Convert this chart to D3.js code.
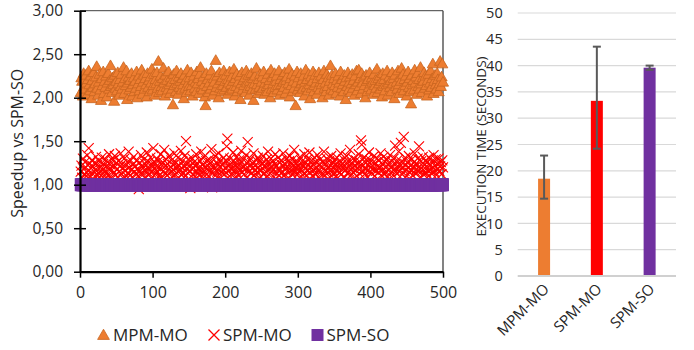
<!DOCTYPE html>
<html>
<head>
<meta charset="utf-8">
<script src="https://cdn.jsdelivr.net/npm/d3@7"></script>
<style>
html,body{margin:0;padding:0;background:#fff;}
svg{display:block;font-family:"Open Sans",sans-serif;}
</style>
</head>
<body>
<svg id="chart" width="694" height="350"></svg>
<script>
// ---------- DATA ----------
const seriesNames = ["MPM-MO", "SPM-MO", "SPM-SO"];
const xTicks = [0, 100, 200, 300, 400, 500];
const yTicks = [0, 0.5, 1, 1.5, 2, 2.5, 3];
const yTickLabels = ["0,00", "0,50", "1,00", "1,50", "2,00", "2,50", "3,00"];

const mpmMo = [
2.05,2.22,2.18,2.01,2.27,2.12,2.09,2.25,2.16,2.03,2.20,2.30,2.14,2.07,2.24,1.98,2.19,2.11,2.28,2.06,2.15,2.23,2.35,2.10,2.02,
2.17,2.26,2.08,1.96,2.21,2.13,2.29,2.04,2.18,2.11,2.24,2.00,2.16,2.27,2.09,2.19,2.36,2.12,2.05,2.22,2.14,1.95,2.25,2.10,2.18,
2.07,2.28,2.15,2.02,2.20,2.12,2.26,2.09,2.17,2.34,2.04,2.21,2.13,2.30,1.97,2.16,2.23,2.08,2.19,2.11,2.27,2.01,2.14,2.22,2.06,
2.18,2.10,2.29,1.99,2.15,2.24,2.07,2.20,2.12,2.31,2.03,2.17,2.25,2.09,2.21,2.14,2.00,2.27,2.11,2.19,2.06,2.23,2.16,2.32,2.08,
2.13,2.26,2.02,2.20,2.15,2.28,2.10,2.41,2.05,2.18,2.24,2.12,2.07,2.21,2.33,2.16,2.01,2.25,2.11,2.19,2.08,2.29,2.14,2.04,2.22,
2.17,2.09,1.91,2.26,2.13,2.20,2.06,2.30,2.15,2.03,2.23,2.11,2.18,2.27,2.08,2.21,2.14,1.98,2.25,2.10,2.19,2.05,2.31,2.16,2.12,
2.22,2.07,2.28,2.13,2.01,2.19,2.24,2.10,2.17,2.06,2.29,2.15,2.21,2.04,2.26,2.34,2.11,2.18,2.08,2.23,2.14,2.00,1.90,2.27,2.12,
2.20,2.05,2.16,2.25,2.09,2.30,2.13,2.02,2.21,2.17,2.07,2.42,2.11,2.24,2.15,1.99,2.28,2.10,2.19,2.06,2.22,2.13,2.30,2.08,2.18,
2.25,2.11,2.03,2.20,2.16,2.29,2.07,2.14,2.23,2.09,2.18,2.32,2.01,2.21,2.12,2.26,2.06,2.17,2.10,2.24,1.97,2.15,2.28,2.08,2.19,
2.13,2.22,2.05,2.30,2.16,2.10,2.25,2.02,2.18,2.12,2.27,2.08,2.21,1.96,2.15,2.24,2.09,2.33,2.14,2.04,2.20,2.11,2.26,2.07,2.17,
2.23,2.10,2.29,2.03,2.16,2.21,2.12,2.06,2.26,2.14,2.19,1.99,2.31,2.09,2.22,2.15,2.05,2.27,2.11,2.18,2.24,2.08,2.13,2.30,2.02,
2.20,2.14,2.07,2.25,2.17,2.11,2.28,2.04,2.19,2.23,2.09,2.15,2.32,2.00,2.21,2.13,2.26,2.06,2.18,2.10,2.24,1.90,2.16,2.29,2.08,
2.22,2.12,2.05,2.27,2.15,2.19,2.09,2.24,2.01,2.17,2.31,2.11,2.20,2.07,2.26,2.14,1.98,2.23,2.10,2.18,2.29,2.06,2.13,2.25,2.16,
2.03,2.21,2.11,2.28,2.08,2.17,2.24,2.14,1.99,2.20,2.30,2.10,2.16,2.06,2.26,2.12,2.22,2.02,2.18,2.36,2.09,2.25,2.15,2.07,2.21,
2.13,2.27,2.04,2.19,2.11,2.24,2.16,2.01,2.29,2.10,2.20,2.14,2.06,2.25,2.18,1.97,2.22,2.12,2.28,2.08,2.17,2.23,2.05,2.15,2.26,
2.10,2.19,2.02,2.24,2.14,2.30,2.07,2.17,2.31,2.12,2.21,2.04,2.27,2.16,2.09,2.23,2.13,1.99,2.25,2.18,2.06,2.20,2.11,2.28,2.15,
2.08,2.22,2.17,2.03,2.26,2.13,2.19,2.10,2.32,2.05,2.21,2.15,2.24,2.09,2.18,2.00,2.27,2.12,2.20,2.07,2.25,2.14,2.30,2.02,2.16,
2.23,2.11,2.19,2.06,2.28,2.15,2.21,1.98,2.25,2.12,2.17,2.09,2.30,2.14,2.04,2.22,2.18,2.33,2.10,2.26,2.07,2.20,2.13,2.24,2.01,
2.17,2.29,2.11,2.21,2.06,1.92,2.25,2.14,2.19,2.08,2.31,2.16,2.23,2.03,2.27,2.12,2.20,2.09,2.34,2.15,2.05,2.22,2.18,2.28,2.10,
2.24,2.13,2.01,2.19,2.26,2.08,2.16,2.30,2.11,2.21,2.38,2.04,2.18,2.25,2.14,2.09,2.27,2.20,2.06,2.15,2.41,2.12,2.23,2.38,2.17
];

const spmMo = [
1.15,1.22,1.08,1.30,1.18,1.12,1.26,1.20,1.10,1.34,1.16,1.42,1.24,1.09,1.19,1.28,1.13,1.21,1.06,1.25,1.17,1.32,1.11,1.23,1.14,
1.27,1.09,1.20,1.16,1.31,1.12,1.24,1.18,1.07,1.29,1.21,1.14,1.26,1.10,1.35,1.19,1.23,1.08,1.17,1.28,1.13,1.22,1.33,1.11,1.25,
1.18,1.09,1.27,1.15,1.21,1.36,1.12,1.24,1.19,1.07,1.30,1.16,1.22,1.10,1.26,1.14,1.38,1.20,1.11,1.28,1.17,1.23,1.08,1.32,1.15,
1.21,1.13,1.27,1.18,1.10,0.95,1.25,1.16,1.34,1.12,1.22,1.19,1.29,1.08,1.24,1.15,1.37,1.20,1.11,1.26,1.17,1.31,1.14,1.23,1.09,
1.42,1.18,1.25,1.12,1.21,1.30,1.15,1.27,1.10,1.19,1.35,1.23,1.08,1.26,1.16,1.40,1.13,1.22,1.29,1.11,1.24,1.18,1.33,1.14,1.20,
1.28,1.09,1.23,1.17,1.36,1.12,1.25,1.20,1.07,1.31,1.15,1.22,1.18,1.39,1.11,1.27,1.14,1.21,1.33,1.10,1.50,1.19,1.24,1.13,1.29,
1.16,0.96,1.22,1.18,1.30,1.12,1.26,1.09,1.21,1.35,1.15,1.24,1.19,1.11,1.28,1.17,1.38,1.13,1.23,1.08,1.32,1.20,1.14,1.27,1.18,
1.22,1.10,1.29,1.16,1.25,1.41,0.97,1.13,1.21,1.18,1.33,1.11,1.26,1.15,1.23,1.36,1.09,1.20,1.28,1.14,1.24,1.17,1.31,1.12,1.19,
1.27,1.44,1.53,1.16,1.22,1.10,1.30,1.18,1.25,1.13,1.37,1.20,1.08,1.26,1.15,1.32,1.21,1.11,1.28,1.17,1.24,1.39,1.14,1.19,1.29,
1.12,1.23,1.18,1.34,1.09,1.49,1.26,1.15,1.21,1.30,1.13,1.25,1.19,1.36,1.11,1.22,1.17,1.28,1.14,1.31,1.20,1.08,1.27,1.16,1.24,
1.19,1.33,1.12,1.26,1.21,1.15,1.29,1.10,1.38,1.18,1.24,1.13,1.30,1.20,1.16,1.27,1.09,1.23,1.35,1.14,1.22,1.18,1.31,1.11,1.25,
1.17,1.28,1.13,1.22,1.36,1.10,1.24,1.19,1.30,1.15,1.21,1.08,1.27,1.33,1.16,1.23,1.12,1.29,1.18,1.40,1.14,1.25,1.20,1.11,1.26,
1.21,1.15,1.32,1.18,1.09,1.27,1.23,1.13,1.35,1.19,1.25,1.11,1.29,1.16,1.22,1.37,1.14,1.20,1.28,1.10,1.24,1.17,1.31,1.12,1.26,
1.19,1.34,1.15,1.23,1.08,1.29,1.21,1.13,1.26,1.18,1.38,1.11,1.24,1.16,1.30,1.20,1.14,1.27,1.09,1.22,1.33,1.17,1.25,1.12,1.28,
1.18,1.23,1.10,1.31,1.16,1.26,1.20,1.14,1.36,1.12,1.24,1.19,1.29,1.08,1.22,1.17,1.33,1.13,1.27,1.21,1.15,1.40,1.11,1.25,1.19,
1.30,1.14,1.22,1.17,1.28,1.10,1.24,1.19,1.35,1.13,1.26,1.51,1.46,1.21,1.16,1.31,1.12,1.25,1.18,1.29,1.09,1.23,1.37,1.15,1.20,
1.27,1.13,1.22,1.18,1.33,1.10,1.25,1.16,1.30,1.21,1.14,1.28,1.19,1.36,1.11,1.24,1.17,1.32,1.12,1.26,1.20,1.15,1.29,1.09,1.23,
1.18,1.34,1.14,1.27,1.21,1.11,1.30,1.17,1.45,1.24,1.13,1.28,1.19,1.38,1.15,1.22,1.48,1.26,1.12,1.20,1.55,1.16,1.31,1.23,1.10,
1.26,1.19,1.33,1.14,1.22,1.17,1.29,1.11,1.25,1.20,1.36,1.13,1.24,1.18,1.30,1.15,1.44,1.21,1.09,1.27,1.16,1.32,1.12,1.23,1.19,
1.28,1.14,1.25,1.20,1.10,1.31,1.17,1.23,1.13,1.27,1.19,1.34,1.15,1.22,1.29,1.11,1.24,1.18,1.30,1.16,1.21,1.26,1.12,1.28,1.20
];

const spmSo = [
1,1,1,1,1,1,1,1,1,1,1,1,1,1,1,1,1,1,1,1,1,1,1,1,1,1,1,1,1,1,1,1,1,1,1,1,1,1,1,1,1,1,1,1,1,1,1,1,1,1,
1,1,1,1,1,1,1,1,1,1,1,1,1,1,1,1,1,1,1,1,1,1,1,1,1,1,1,1,1,1,1,1,1,1,1,1,1,1,1,1,1,1,1,1,1,1,1,1,1,1,
1,1,1,1,1,1,1,1,1,1,1,1,1,1,1,1,1,1,1,1,1,1,1,1,1,1,1,1,1,1,1,1,1,1,1,1,1,1,1,1,1,1,1,1,1,1,1,1,1,1,
1,1,1,1,1,1,1,1,1,1,1,1,1,1,1,1,1,1,1,1,1,1,1,1,1,1,1,1,1,1,1,1,1,1,1,1,1,1,1,1,1,1,1,1,1,1,1,1,1,1,
1,1,1,1,1,1,1,1,1,1,1,1,1,1,1,1,1,1,1,1,1,1,1,1,1,1,1,1,1,1,1,1,1,1,1,1,1,1,1,1,1,1,1,1,1,1,1,1,1,1,
1,1,1,1,1,1,1,1,1,1,1,1,1,1,1,1,1,1,1,1,1,1,1,1,1,1,1,1,1,1,1,1,1,1,1,1,1,1,1,1,1,1,1,1,1,1,1,1,1,1,
1,1,1,1,1,1,1,1,1,1,1,1,1,1,1,1,1,1,1,1,1,1,1,1,1,1,1,1,1,1,1,1,1,1,1,1,1,1,1,1,1,1,1,1,1,1,1,1,1,1,
1,1,1,1,1,1,1,1,1,1,1,1,1,1,1,1,1,1,1,1,1,1,1,1,1,1,1,1,1,1,1,1,1,1,1,1,1,1,1,1,1,1,1,1,1,1,1,1,1,1,
1,1,1,1,1,1,1,1,1,1,1,1,1,1,1,1,1,1,1,1,1,1,1,1,1,1,1,1,1,1,1,1,1,1,1,1,1,1,1,1,1,1,1,1,1,1,1,1,1,1,
1,1,1,1,1,1,1,1,1,1,1,1,1,1,1,1,1,1,1,1,1,1,1,1,1,1,1,1,1,1,1,1,1,1,1,1,1,1,1,1,1,1,1,1,1,1,1,1,1,1
];

// bar chart data
const barCategories = ["MPM-MO", "SPM-MO", "SPM-SO"];
const barMeans = [18.5, 33.3, 39.6];
const barLow = [14.7, 24.2, 39.2];
const barHigh = [22.9, 43.6, 40.0];
const barYTicks = [0, 5, 10, 15, 20, 25, 30, 35, 40, 45, 50];

// ---------- STYLE ----------
const C_ORANGE = "#ED7D31", C_ORANGE_D = "#C8641F", C_RED = "#FF0000", C_PURPLE = "#7030A0";
const TXT = "#262626";

const svg = d3.select("#chart");

// ---------- LEFT SCATTER ----------
const x = d3.scaleLinear().domain([0, 500]).range([80, 443]);
const y = d3.scaleLinear().domain([0, 3]).range([271.7, 10.7]);

const L = svg.append("g");
// frame top/right
L.append("line").attr("x1", x(0)).attr("x2", x(500)).attr("y1", y(3)).attr("y2", y(3))
  .attr("stroke", "#404040").attr("stroke-width", 1);
L.append("line").attr("x1", x(500)).attr("x2", x(500)).attr("y1", y(3)).attr("y2", y(0))
  .attr("stroke", "#404040").attr("stroke-width", 1.3);

const pts = (arr) => arr.map((v, i) => ({x: i + 1, y: v}));

// MPM-MO triangles
const tri = d3.symbol().type(d3.symbolTriangle).size(54);
L.append("g").selectAll("path").data(pts(mpmMo)).join("path")
  .attr("d", tri)
  .attr("transform", d => `translate(${x(d.x)},${y(d.y)})`)
  .attr("fill", C_ORANGE).attr("stroke", C_ORANGE_D).attr("stroke-width", 0.8);

// SPM-MO crosses
const cross = (s) => `M${-s},${-s}L${s},${s}M${-s},${s}L${s},${-s}`;
L.append("g").selectAll("path").data(pts(spmMo)).join("path")
  .attr("d", cross(5))
  .attr("transform", d => `translate(${x(d.x)},${y(d.y)})`)
  .attr("fill", "none").attr("stroke", C_RED).attr("stroke-width", 1.1);

// SPM-SO squares
L.append("g").selectAll("rect").data(pts(spmSo)).join("rect")
  .attr("x", d => x(d.x) - 6).attr("y", d => y(d.y) - 6.5)
  .attr("width", 12).attr("height", 13)
  .attr("fill", C_PURPLE);

// axes
const yAxis = d3.axisLeft(y).tickValues(yTicks).tickFormat((d, i) => yTickLabels[i])
  .tickSizeInner(6).tickSizeOuter(0).tickPadding(11);
const gy = L.append("g").attr("transform", `translate(${x(0)},0)`).call(yAxis);
gy.select(".domain").attr("stroke", "#000").attr("stroke-width", 2.2);
gy.selectAll(".tick line").attr("stroke", "#000").attr("stroke-width", 1.5).attr("x2", -6).attr("x1", 6);
gy.selectAll(".tick text").attr("font-size", 15.5).attr("fill", TXT).attr("font-family", "Open Sans");

const xAxis = d3.axisBottom(x).tickValues(xTicks).tickFormat(d3.format("d"))
  .tickSizeInner(6).tickSizeOuter(0).tickPadding(9);
const gx = L.append("g").attr("transform", `translate(0,${y(0)})`).call(xAxis);
gx.select(".domain").attr("stroke", "#000").attr("stroke-width", 2.2);
gx.selectAll(".tick line").attr("stroke", "#000").attr("stroke-width", 1.5);
gx.selectAll(".tick text").attr("font-size", 16).attr("fill", TXT).attr("font-family", "Open Sans");

// y title
svg.append("text").attr("transform", `translate(23,${(y(0)+y(3))/2 + 2}) rotate(-90)`)
  .attr("text-anchor", "middle").attr("font-size", 16).attr("fill", TXT)
  .text("Speedup vs SPM-SO");

// legend
const lg = svg.append("g");
const legY = 335;
const legItems = [
  {name: seriesNames[0], mx: 103.5, tx: 113},
  {name: seriesNames[1], mx: 214, tx: 223},
  {name: seriesNames[2], mx: 317.5, tx: 326.5}
];
lg.append("path").attr("d", d3.symbol().type(d3.symbolTriangle).size(60))
  .attr("transform", `translate(${legItems[0].mx},${legY + 1})`)
  .attr("fill", C_ORANGE).attr("stroke", C_ORANGE_D).attr("stroke-width", 0.8);
lg.append("path").attr("d", cross(5.5)).attr("transform", `translate(${legItems[1].mx},${legY})`)
  .attr("stroke", C_RED).attr("stroke-width", 1.3).attr("fill", "none");
lg.append("rect").attr("x", legItems[2].mx - 6).attr("y", legY - 6).attr("width", 12).attr("height", 12)
  .attr("fill", C_PURPLE);
lg.selectAll("text.leg").data(legItems).join("text").attr("class", "leg")
  .attr("x", d => d.tx).attr("y", legY + 6).attr("font-size", 17).attr("fill", TXT)
  .text(d => d.name);

// ---------- RIGHT BAR CHART ----------
const bx = d3.scaleBand().domain(barCategories).range([517.7, 676]).paddingInner(0).paddingOuter(0);
const by = d3.scaleLinear().domain([0, 50]).range([276, 13]);
const R = svg.append("g");

R.append("g").selectAll("line").data(barYTicks.filter(d => d > 0)).join("line")
  .attr("x1", 517.7).attr("x2", 676).attr("y1", d => by(d)).attr("y2", d => by(d))
  .attr("stroke", "#d9d9d9").attr("stroke-width", 1.2);

const byAxis = d3.axisLeft(by).tickValues(barYTicks).tickSize(0).tickPadding(15);
const gby = R.append("g").attr("transform", "translate(517.7,0)").call(byAxis);
gby.select(".domain").remove();
gby.selectAll(".tick text").attr("font-size", 14.5).attr("fill", TXT).attr("font-family", "Open Sans");

const barW = 12;
R.append("g").selectAll("rect").data(barCategories).join("rect")
  .attr("x", d => bx(d) + bx.bandwidth() / 2 - barW / 2)
  .attr("y", (d, i) => by(barMeans[i]))
  .attr("width", barW)
  .attr("height", (d, i) => by(0) - by(barMeans[i]))
  .attr("fill", (d, i) => [C_ORANGE, C_RED, C_PURPLE][i]);

// baseline
R.append("line").attr("x1", 517.7).attr("x2", 676).attr("y1", by(0)).attr("y2", by(0))
  .attr("stroke", "#d0d0d0").attr("stroke-width", 2);

// error bars
const eb = R.append("g").attr("stroke", "#595959").attr("stroke-width", 2);
barCategories.forEach((c, i) => {
  const cx = bx(c) + bx.bandwidth() / 2;
  eb.append("line").attr("x1", cx).attr("x2", cx).attr("y1", by(barLow[i])).attr("y2", by(barHigh[i]));
  eb.append("line").attr("x1", cx - 4).attr("x2", cx + 4).attr("y1", by(barLow[i])).attr("y2", by(barLow[i]));
  eb.append("line").attr("x1", cx - 4).attr("x2", cx + 4).attr("y1", by(barHigh[i])).attr("y2", by(barHigh[i]));
});

// x labels rotated
R.append("g").selectAll("text").data(barCategories).join("text")
  .attr("transform", d => `translate(${bx(d) + bx.bandwidth() / 2 + 6},${by(0) + 14}) rotate(-45)`)
  .attr("text-anchor", "end").attr("font-size", 15).attr("fill", TXT)
  .text(d => d);

// y title
svg.append("text").attr("transform", `translate(486,${(by(0) + by(50)) / 2 + 2}) rotate(-90)`)
  .attr("text-anchor", "middle").attr("font-size", 13.5).attr("fill", TXT)
  .text("EXECUTION TIME (SECONDS)");
</script>
</body>
</html>
